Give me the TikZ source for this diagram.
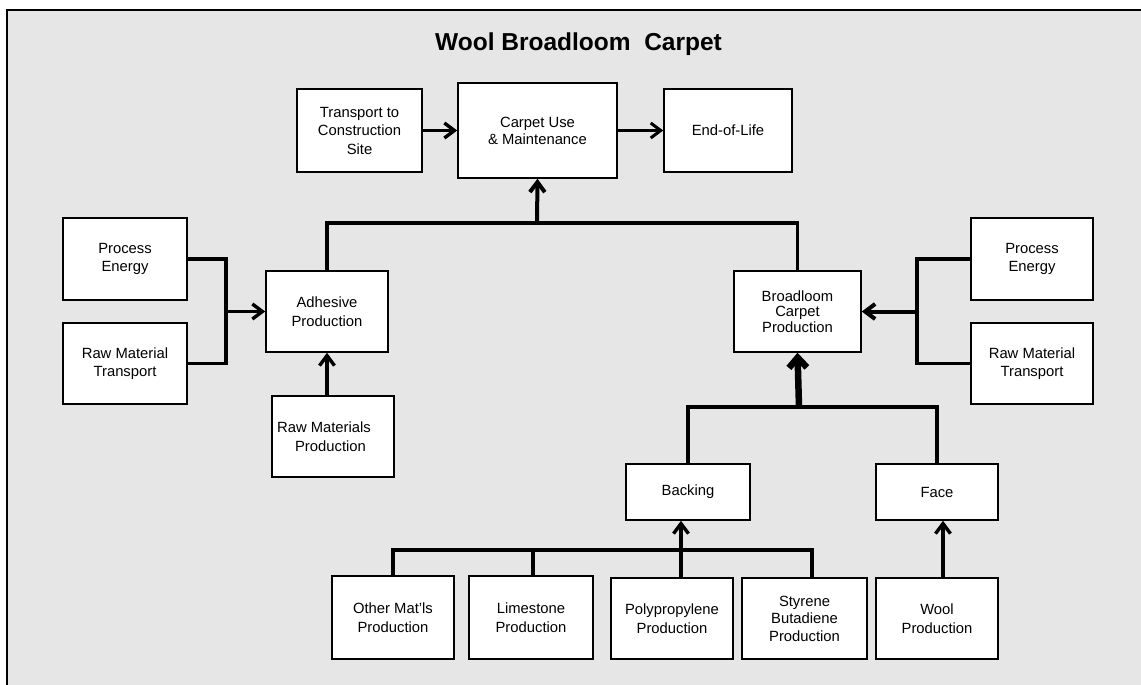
\documentclass[tikz,border=0pt]{standalone}
\usepackage{fontspec}
\setmainfont{Liberation Sans}
\usepackage{tikz}
\usetikzlibrary{arrows.meta}
\definecolor{bggray}{RGB}{230,230,230}
\tikzset{
  stage/.style={draw, fill=white, line width=1.6pt, align=center, inner sep=0pt,
    font=\fontsize{14.8}{18.5}\selectfont},
  link/.style={line width=3.2pt},
  flow/.style={line width=3.4pt, -{Straight Barb[length=10pt,width=15pt]}},
  bigflow/.style={line width=6.5pt, -{Straight Barb[length=10pt,width=18pt]}}
}

\begin{document}
\begin{tikzpicture}[x=1pt,y=-1pt]
    \useasboundingbox (0,0) rectangle (1141,685);
    \fill[bggray] (7,10) rectangle (1141,685);
    \draw[line width=1.6pt] (7,685) -- (7,10) -- (1141,10);

    \node[font=\fontsize{24.5}{29}\selectfont\bfseries, anchor=base] (title) at (578.5,50.7) {Wool Broadloom\ \ Carpet};

    \node[stage, minimum width=125pt, minimum height=83pt] (trans) at (359.5,130.5) {Transport to\\Construction\\Site};
    \node[stage, minimum width=159pt, minimum height=95pt, font=\fontsize{14.8}{17}\selectfont] (use) at (537.5,130.5) {Carpet Use\\\& Maintenance};
    \node[stage, minimum width=128pt, minimum height=83pt] (eol)   at (728,130.5)   {End-of-Life};

    \node[stage, minimum width=124pt, minimum height=82pt] (peL)   at (125,259)     {Process\\Energy};
    \node[stage, minimum width=124pt, minimum height=81pt] (rmtL)  at (125,363.5)   {Raw Material\\Transport};
    \node[stage, minimum width=122pt, minimum height=81pt] (adh)   at (327,311.5)   {Adhesive\\Production};
    \node[stage, minimum width=122pt, minimum height=81pt] (rmp)   at (333,436.5)   {Raw Materials\hspace*{18pt}\\Production\hspace*{5pt}};

    \node[stage, minimum width=127pt, minimum height=81pt, font=\fontsize{14.8}{15.5}\selectfont] (brd) at (797.5,311.5) {Broadloom\\Carpet\\Production};
    \node[stage, minimum width=122pt, minimum height=82pt] (peR)   at (1032,259)    {Process\\Energy};
    \node[stage, minimum width=122pt, minimum height=81pt] (rmtR)  at (1032,363.5)  {Raw Material\\Transport};

    \node[stage, minimum width=124pt, minimum height=56pt] (back)  at (688,492)     {Backing};
    \node[stage, minimum width=122pt, minimum height=56pt] (face)  at (937,492)     {Face};

    \node[stage, minimum width=122pt, minimum height=83pt] (other) at (393,617.5)   {Other Mat’ls\\Production};
    \node[stage, minimum width=124pt, minimum height=83pt] (lime)  at (531,617.5)   {Limestone\\Production};
    \node[stage, minimum width=122pt, minimum height=81pt] (poly)  at (672,618.5)   {Polypropylene\\Production};
    \node[stage, minimum width=125pt, minimum height=81pt, font=\fontsize{14.8}{17.5}\selectfont] (styr) at (804.5,618.5) {Styrene\\Butadiene\\Production};
    \node[stage, minimum width=122pt, minimum height=81pt] (wool)  at (937,618.5)   {Wool\\Production};

    \coordinate (topbar) at (537,223);
    \coordinate (joinL)  at (226,311.5);
    \coordinate (joinR)  at (917,311.5);
    \coordinate (midbar) at (799,407);
    \coordinate (lowbar) at (681,550);

    \draw[flow] (trans) -- (use);
    \draw[flow, line width=3pt] (use) -- (eol);

    \draw[link] (adh.north) |- (topbar) -| (brd.north);
    \draw[flow, line width=4pt] (topbar) -- (use.south);

    \draw[link] (peL.east) -| (joinL) |- (rmtL.east);
    \draw[flow] (joinL) -- (adh.west);
    \draw[flow] (rmp.north -| adh) -- (adh.south);

    \draw[link] (peR.west) -| (joinR) |- (rmtR.west);
    \draw[flow, line width=4pt] (joinR) -- (brd.east);

    \draw[link] (back.north) |- (midbar) -| (face.north);
    \draw[bigflow] (midbar) -- (brd.south);

    \draw[link] (other.north) |- (lowbar) -| ([xshift=7.5pt]styr.north);
    \draw[link] (lime.north -| 533,0) -- (lowbar -| 533,0);
    \draw[flow] (poly.north -| lowbar) -- (back.south -| lowbar);
    \draw[flow] ([xshift=6pt]wool.north) -- ([xshift=6pt]face.south);
\end{tikzpicture}
\end{document}
